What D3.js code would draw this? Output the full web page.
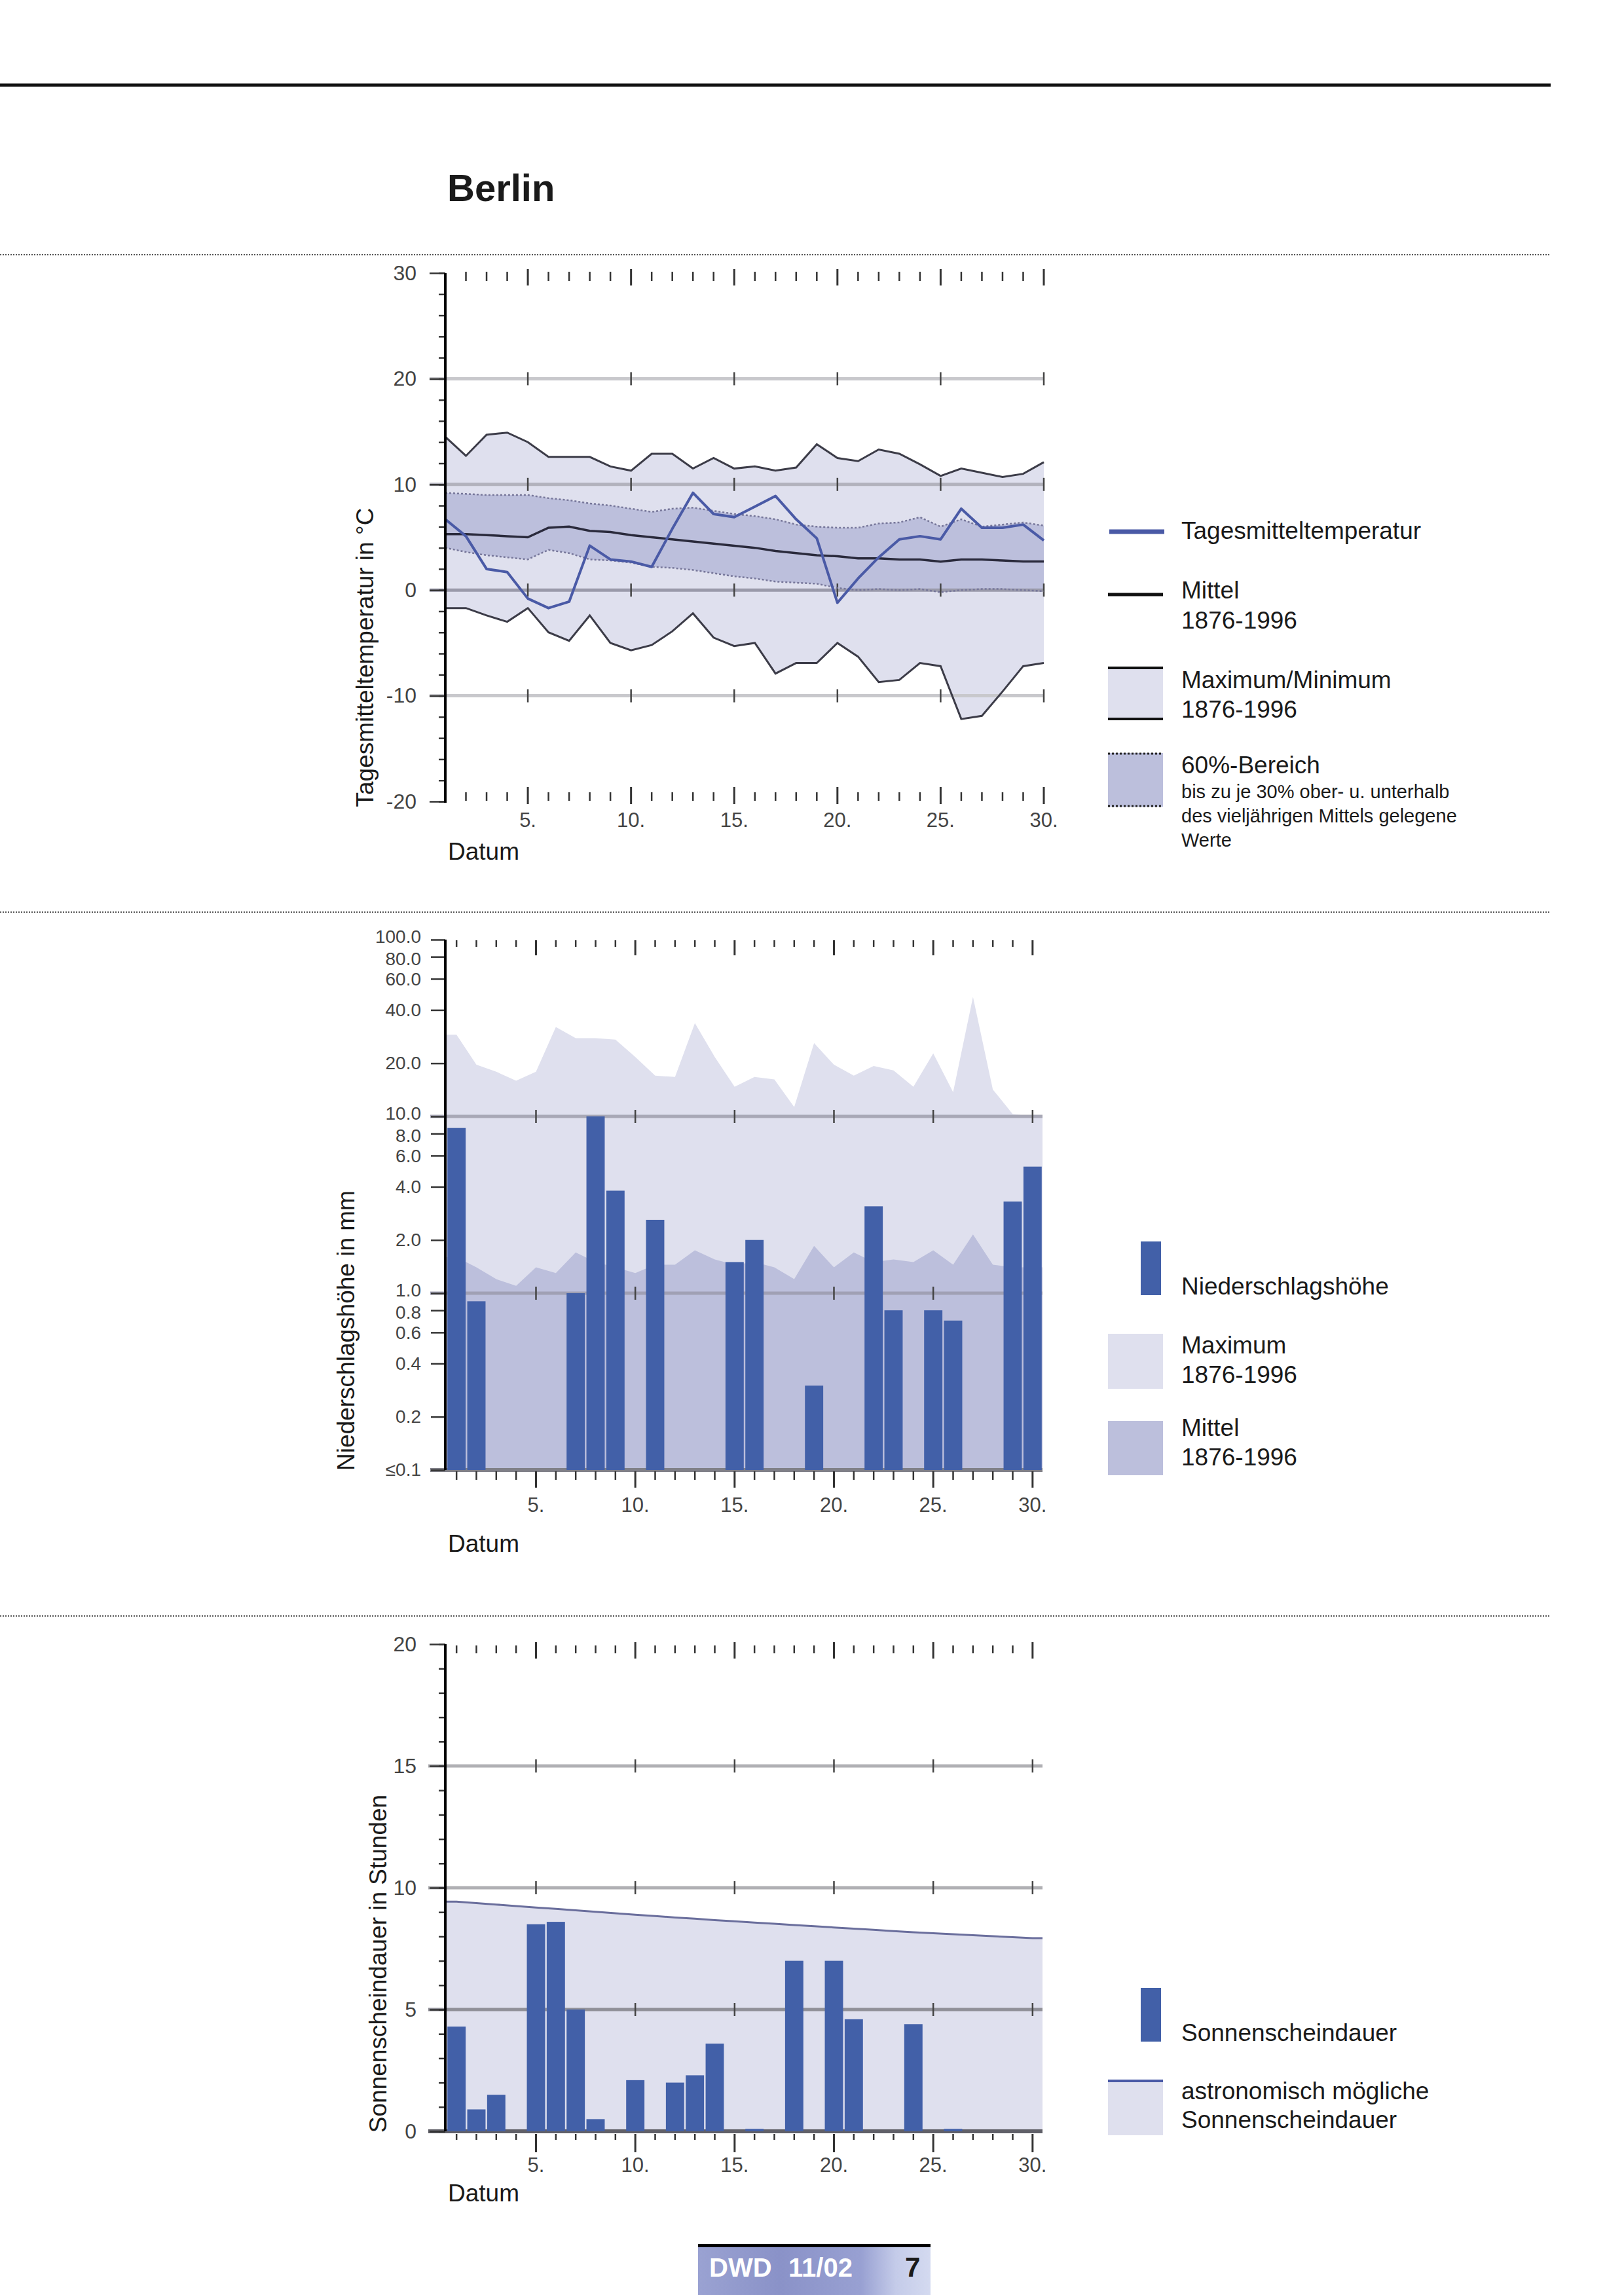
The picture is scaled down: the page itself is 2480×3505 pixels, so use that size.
<!DOCTYPE html>
<html><head><meta charset="utf-8">
<script src="https://cdn.jsdelivr.net/npm/d3@7"></script>
<style>body{margin:0;background:#fff}svg{display:block}</style>
</head><body><svg id="c" width="2480" height="3505"></svg>
<script>
// ---------------- DATA ----------------
const days = [1,2,3,4,5,6,7,8,9,10,11,12,13,14,15,16,17,18,19,20,21,22,23,24,25,26,27,28,29,30];
const dayLabelDays = [5,10,15,20,25,30];

// Temperature (°C)
const tempDaily = [6.7,5.1,2.0,1.7,-0.8,-1.7,-1.1,4.2,2.9,2.7,2.2,5.8,9.2,7.2,6.9,7.9,8.9,6.7,4.9,-1.2,1.1,3.1,4.8,5.1,4.8,7.7,5.9,5.9,6.2,4.7];
const tempMean = [5.3,5.3,5.2,5.1,5.0,5.9,6.0,5.6,5.5,5.2,5.0,4.8,4.6,4.4,4.2,4.0,3.7,3.5,3.3,3.2,3.0,3.0,2.9,2.9,2.7,2.9,2.9,2.8,2.7,2.7];
const tempMax = [14.5,12.7,14.7,14.9,14.0,12.6,12.6,12.6,11.7,11.3,12.9,12.9,11.5,12.5,11.5,11.7,11.3,11.6,13.8,12.5,12.2,13.3,12.9,11.9,10.8,11.5,11.1,10.7,11.0,12.1];
const tempMin = [-1.7,-1.7,-2.4,-3.0,-1.7,-4.0,-4.8,-2.4,-5.0,-5.7,-5.2,-3.9,-2.2,-4.5,-5.3,-5.0,-7.9,-6.9,-6.9,-5.0,-6.3,-8.7,-8.5,-6.9,-7.2,-12.2,-11.9,-9.6,-7.2,-6.9];
const temp60Hi = [9.2,9.1,9.0,9.0,9.0,8.7,8.5,8.2,8.0,7.7,7.4,7.7,7.8,7.5,7.2,7.0,6.7,6.2,6.0,5.9,5.9,6.3,6.4,6.9,6.0,6.7,6.0,6.2,6.4,6.1];
const temp60Lo = [4.0,3.6,3.3,3.1,2.9,3.8,3.5,2.9,2.8,2.6,2.2,2.1,1.9,1.6,1.3,1.1,0.8,0.7,0.6,0.2,0.0,0.1,0.0,0.1,-0.2,0.0,0.1,0.1,0.0,-0.1];
const tempYTicks = [30,20,10,0,-10,-20];
const tempYLabels = ["30","20","10","0","-10","-20"];
const tempGrid = [20,10,0,-10];

// Precipitation (mm)
const precip = [8.6,0.9,0,0,0,0,1.0,10.0,3.8,0,2.6,0,0,0,1.5,2.0,0,0,0.3,0,0,3.1,0.8,0,0.8,0.7,0,0,3.3,5.2];
const precipMax = [29,19.6,17.9,15.9,17.9,32,27.7,27.7,27.2,21.7,17,16.7,33.7,21.7,14.7,16.7,16.2,11.3,26,19.6,17,19.3,18.2,14.7,22.7,13.7,47.4,14.2,10.3,10];
const precipMean = [1.6,1.4,1.2,1.1,1.4,1.3,1.7,1.5,1.4,1.3,1.45,1.45,1.75,1.55,1.45,1.5,1.4,1.2,1.85,1.4,1.7,1.5,1.55,1.5,1.75,1.45,2.15,1.45,1.4,1.4];
const precipYTicks = [100,80,60,40,20,10,8,6,4,2,1,0.8,0.6,0.4,0.2,0.1];
const precipYLabels = ["100.0","80.0","60.0","40.0","20.0","10.0","8.0","6.0","4.0","2.0","1.0","0.8","0.6","0.4","0.2","\u22640.1"];
const precipGrid = [10,1];

// Sunshine (h)
const sun = [4.3,0.9,1.5,0,8.5,8.6,5.0,0.5,0,2.1,0,2.0,2.3,3.6,0,0.1,0,7.0,0,7.0,4.6,0,0,4.4,0,0.1,0,0,0,0];
const sunAstro = [9.43,9.37,9.31,9.25,9.19,9.13,9.07,9.01,8.95,8.89,8.84,8.78,8.73,8.67,8.62,8.57,8.52,8.47,8.42,8.37,8.32,8.27,8.22,8.17,8.13,8.09,8.05,8.01,7.97,7.93];
const sunYTicks = [20,15,10,5,0];
const sunYLabels = ["20","15","10","5","0"];
const sunGrid = [15,10,5];

// ---------------- STYLE ----------------
const FONT = '"Liberation Sans", Arial, Helvetica, sans-serif';
const LAV1 = '#dfe0ee', LAV2 = '#bcbfdc', BAR = '#4260a8', BLUE = '#4a5aa6', TICK = '#333', LBL = '#444';
const svg = d3.select('#c');
svg.append('rect').attr('width',2480).attr('height',3505).attr('fill','#fff');

function text(g, x, y, s, size, opt={}) {
  return g.append('text').attr('x',x).attr('y',y).text(s)
    .attr('font-family',FONT).attr('font-size',size)
    .attr('font-weight',opt.bold?'bold':'normal')
    .attr('fill',opt.fill||'#1a1a1a')
    .attr('text-anchor',opt.anchor||'start');
}
function seg(g, x1, y1, x2, y2, color, w, dash) {
  const l = g.append('line').attr('x1',x1).attr('y1',y1).attr('x2',x2).attr('y2',y2)
    .attr('stroke',color).attr('stroke-width',w);
  if (dash) l.attr('stroke-dasharray',dash);
  return l;
}
function yAxis(g, scale, values, labels, size, pad, fsize, nudge) {
  const ax = d3.axisLeft(scale).tickValues(values).tickSize(size).tickPadding(pad)
    .tickFormat(d => labels ? labels[values.indexOf(d)] : '');
  const a = g.append('g').attr('transform','translate(680,0)').call(ax);
  a.select('.domain').remove();
  a.selectAll('line').attr('stroke',TICK).attr('stroke-width',2.5);
  const t = a.selectAll('text').attr('font-size',fsize).attr('fill',LBL).attr('font-family',FONT);
  if (nudge) t.attr('y', d => nudge(d));
}
function dayTicks(g, xs, list, yMinor0, yMinor1, yMajor0, yMajor1) {
  g.selectAll(null).data(list).join('line')
    .attr('x1',d=>xs(d)).attr('x2',d=>xs(d))
    .attr('y1',d=>d%5===0?yMajor0:yMinor0).attr('y2',d=>d%5===0?yMajor1:yMinor1)
    .attr('stroke',TICK).attr('stroke-width',d=>d%5===0?3:2.5);
}
function gridLines(g, ys, vals, xl, xr, colorFn, xs, tickDays) {
  vals.forEach(v => {
    seg(g, xl, ys(v), xr, ys(v), colorFn(v), 5);
    g.selectAll(null).data(tickDays).join('line')
      .attr('x1',d=>xs(d)).attr('x2',d=>xs(d))
      .attr('y1',ys(v)-10).attr('y2',ys(v)+10)
      .attr('stroke','#444').attr('stroke-width',2.5);
  });
}
function xLabels(g, xs, y) {
  g.selectAll(null).data(dayLabelDays).join('text')
    .attr('x',d=>xs(d)).attr('y',y).text(d=>d+'.')
    .attr('font-family',FONT).attr('font-size',31).attr('fill',LBL).attr('text-anchor','middle');
}
function vLabel(g, x, y, s) {
  g.append('text').attr('transform',`translate(${x},${y}) rotate(-90)`).attr('text-anchor','middle')
    .attr('font-family',FONT).attr('font-size',37).attr('fill','#1a1a1a').text(s);
}

// ---------------- PAGE ----------------
seg(svg, 0, 130, 2368, 130, '#111', 5);
[389, 1393, 2468].forEach(y => seg(svg, 0, y, 2368, y, '#555', 2, '2,2'));
text(svg, 683, 307, 'Berlin', 58, {bold:true});

// ---------------- CHART 1: Temperatur ----------------
const g1 = svg.append('g');
const x1 = d3.scaleLinear().domain([1,30]).range([680,1594]);
const y1 = d3.scaleLinear().domain([-20,30]).range([1224,417]);

g1.append('path').datum(days)
  .attr('d', d3.area().x(d=>x1(d)).y0((d,i)=>y1(tempMin[i])).y1((d,i)=>y1(tempMax[i])))
  .attr('fill', LAV1);
g1.append('path').datum(days)
  .attr('d', d3.area().x(d=>x1(d)).y0((d,i)=>y1(temp60Lo[i])).y1((d,i)=>y1(temp60Hi[i])))
  .attr('fill', LAV2);

gridLines(g1, y1, tempGrid, 656, 1594,
  v => v===0 ? '#9a9aaa' : (v===10 ? '#b2b2bc' : '#c8c8cc'), x1, dayLabelDays);

const line1 = arr => d3.line().x(d=>x1(d)).y((d,i)=>y1(arr[i]));
g1.append('path').datum(days).attr('d', line1(temp60Hi)).attr('fill','none')
  .attr('stroke','#77779a').attr('stroke-width',2.5).attr('stroke-dasharray','3,3');
g1.append('path').datum(days).attr('d', line1(temp60Lo)).attr('fill','none')
  .attr('stroke','#77779a').attr('stroke-width',2.5).attr('stroke-dasharray','3,3');
g1.append('path').datum(days).attr('d', line1(tempMax)).attr('fill','none')
  .attr('stroke','#3c3c48').attr('stroke-width',3);
g1.append('path').datum(days).attr('d', line1(tempMin)).attr('fill','none')
  .attr('stroke','#3c3c48').attr('stroke-width',3);
g1.append('path').datum(days).attr('d', line1(tempMean)).attr('fill','none')
  .attr('stroke','#2a2a3c').attr('stroke-width',3.5);
g1.append('path').datum(days).attr('d', line1(tempDaily)).attr('fill','none')
  .attr('stroke',BLUE).attr('stroke-width',4).attr('stroke-linejoin','round');

yAxis(g1, y1, d3.range(-20,31,2), null, 10, 0, 32);
yAxis(g1, y1, tempYTicks, tempYLabels, 24, 20, 32);
seg(g1, 680, y1(30), 680, y1(-20)+2, '#000', 4);
const tDays = days.filter(d => d > 1);
dayTicks(g1, x1, tDays, 415, 429, 411, 436);
dayTicks(g1, x1, tDays, 1223, 1210, 1228, 1202);
xLabels(g1, x1, 1263);
text(g1, 684, 1313, 'Datum', 37);
vLabel(g1, 570, 1004, 'Tagesmitteltemperatur in \u00B0C');

// legend 1
const L1 = svg.append('g');
seg(L1, 1694, 812, 1778, 812, BLUE, 7);
text(L1, 1804, 823, 'Tagesmitteltemperatur', 37);
seg(L1, 1692, 908, 1776, 908, '#111', 5);
text(L1, 1804, 914, 'Mittel', 37);
text(L1, 1804, 960, '1876-1996', 37);
L1.append('rect').attr('x',1692).attr('y',1018).attr('width',84).attr('height',82).attr('fill',LAV1);
seg(L1, 1692, 1020, 1776, 1020, '#111', 4);
seg(L1, 1692, 1098, 1776, 1098, '#111', 4);
text(L1, 1804, 1051, 'Maximum/Minimum', 37);
text(L1, 1804, 1096, '1876-1996', 37);
L1.append('rect').attr('x',1692).attr('y',1150).attr('width',84).attr('height',82).attr('fill',LAV2);
seg(L1, 1692, 1151, 1776, 1151, '#222', 3, '3,3');
seg(L1, 1692, 1231, 1776, 1231, '#222', 3, '3,3');
text(L1, 1804, 1181, '60%-Bereich', 37);
text(L1, 1804, 1219, 'bis zu je 30% ober- u. unterhalb', 29);
text(L1, 1804, 1256, 'des vielj\u00E4hrigen Mittels gelegene', 29);
text(L1, 1804, 1293, 'Werte', 29);

// ---------------- CHART 2: Niederschlag ----------------
const g2 = svg.append('g');
const xb = d3.scaleBand().domain(days).range([682,1592]).paddingInner(0.08).paddingOuter(0.04);
const xc = d => xb(d) + xb.bandwidth()/2;
const y2 = d3.scaleLog().domain([0.1,100]).range([2245,1435]);
const [bx0, bx1] = xb.range();

function edgeArea(vals, ys, base) {
  const pts = [[bx0, vals[0]]].concat(days.map((d,i)=>[xc(d), vals[i]])).concat([[bx1, vals[vals.length-1]]]);
  return d3.area().x(p=>p[0]).y0(ys(base)).y1(p=>ys(p[1]))(pts);
}
g2.append('path').attr('d', edgeArea(precipMax, y2, 0.1)).attr('fill', LAV1);
g2.append('path').attr('d', edgeArea(precipMean, y2, 0.1)).attr('fill', LAV2);
gridLines(g2, y2, precipGrid, 657, 1592, v => v===10 ? '#a8a8b6' : '#a0a0b4', xc, dayLabelDays);
seg(g2, 657, y2(0.1), 1592, y2(0.1), '#808088', 6);

g2.selectAll(null).data(days.filter((d,i)=>precip[i]>0)).join('rect')
  .attr('x', d=>xb(d)).attr('width', xb.bandwidth())
  .attr('y', d=>y2(precip[d-1])).attr('height', d=>y2(0.1)-y2(precip[d-1]))
  .attr('fill', BAR);

// tightly stacked log labels: small vertical offsets keep them from colliding
const decadeNudge = d => {
  const m = Math.round(d / Math.pow(10, Math.floor(Math.log10(d) + 1e-9)) * 10) / 10;
  if (m === 1 && d < 50 && d > 0.5) return -4;   // 10.0, 1.0
  if (d === 100) return -4;
  if (m === 8) return 3;
  if (m === 6) return 1;
  return 0;
};
yAxis(g2, y2, precipYTicks, precipYLabels, 22, 15, 28, decadeNudge);
seg(g2, 680, y2(100), 680, y2(0.1), '#000', 4);
dayTicks(g2, xc, days, 1436, 1446, 1436, 1459);
dayTicks(g2, xc, days, 2247, 2260, 2247, 2272);
xLabels(g2, xc, 2309);
text(g2, 684, 2370, 'Datum', 37);
vLabel(g2, 541, 2032, 'Niederschlagsh\u00F6he in mm');

const L2 = svg.append('g');
L2.append('rect').attr('x',1742).attr('y',1896).attr('width',31).attr('height',82).attr('fill',BAR);
text(L2, 1804, 1977, 'Niederschlagsh\u00F6he', 37);
L2.append('rect').attr('x',1692).attr('y',2037).attr('width',84).attr('height',84).attr('fill',LAV1);
text(L2, 1804, 2067, 'Maximum', 37);
text(L2, 1804, 2112, '1876-1996', 37);
L2.append('rect').attr('x',1692).attr('y',2170).attr('width',84).attr('height',83).attr('fill',LAV2);
text(L2, 1804, 2193, 'Mittel', 37);
text(L2, 1804, 2238, '1876-1996', 37);

// ---------------- CHART 3: Sonnenschein ----------------
const g3 = svg.append('g');
const y3 = d3.scaleLinear().domain([0,20]).range([3255,2511]);
g3.append('path').attr('d', edgeArea(sunAstro, y3, 0)).attr('fill', LAV1);
gridLines(g3, y3, sunGrid, 654, 1592, v => v===5 ? '#909098' : '#b0b0b4', xc, dayLabelDays);
seg(g3, 654, y3(0), 1592, y3(0), '#606068', 6);
{
  const pts = [[bx0, sunAstro[0]]].concat(days.map((d,i)=>[xc(d), sunAstro[i]])).concat([[bx1, sunAstro[29]]]);
  g3.append('path').attr('d', d3.line().x(p=>p[0]).y(p=>y3(p[1]))(pts))
    .attr('fill','none').attr('stroke','#6a6e9c').attr('stroke-width',3);
}
g3.selectAll(null).data(days.filter((d,i)=>sun[i]>0)).join('rect')
  .attr('x', d=>xb(d)).attr('width', xb.bandwidth())
  .attr('y', d=>y3(sun[d-1])).attr('height', d=>y3(0)-y3(sun[d-1]))
  .attr('fill', BAR);
yAxis(g3, y3, d3.range(0,21,1), null, 10, 0, 32);
yAxis(g3, y3, sunYTicks, sunYLabels, 24, 20, 32);
seg(g3, 680, y3(20), 680, y3(0), '#000', 4);
dayTicks(g3, xc, days, 2513, 2525, 2508, 2533);
dayTicks(g3, xc, days, 3259, 3268, 3259, 3287);
xLabels(g3, xc, 3317);
text(g3, 684, 3362, 'Datum', 37);
vLabel(g3, 590, 2999, 'Sonnenscheindauer in Stunden');

const L3 = svg.append('g');
L3.append('rect').attr('x',1742).attr('y',3036).attr('width',31).attr('height',82).attr('fill',BAR);
text(L3, 1804, 3117, 'Sonnenscheindauer', 37);
L3.append('rect').attr('x',1692).attr('y',3176).attr('width',84).attr('height',85).attr('fill',LAV1);
seg(L3, 1692, 3178, 1776, 3178, BLUE, 4);
text(L3, 1804, 3206, 'astronomisch m\u00F6gliche', 37);
text(L3, 1804, 3250, 'Sonnenscheindauer', 37);

// ---------------- FOOTER ----------------
const defs = svg.append('defs');
const gr = defs.append('linearGradient').attr('id','fg').attr('x1','0').attr('x2','1').attr('y1','0').attr('y2','0');
[['0%','#9aa2d2'],['35%','#8a92c8'],['70%','#98a0d2'],['85%','#c4cbe9'],['100%','#d4daf0']]
  .forEach(s => gr.append('stop').attr('offset',s[0]).attr('stop-color',s[1]));
svg.append('rect').attr('x',1066).attr('y',3432).attr('width',355).attr('height',73).attr('fill','url(#fg)');
seg(svg, 1066, 3429.5, 1421, 3429.5, '#000', 5);
text(svg, 1083, 3477, 'DWD', 40, {bold:true, fill:'#fff'});
text(svg, 1204, 3477, '11/02', 40, {bold:true, fill:'#fff'});
text(svg, 1382, 3477, '7', 42, {bold:true, fill:'#1a1a1a'});
</script></body></html>
